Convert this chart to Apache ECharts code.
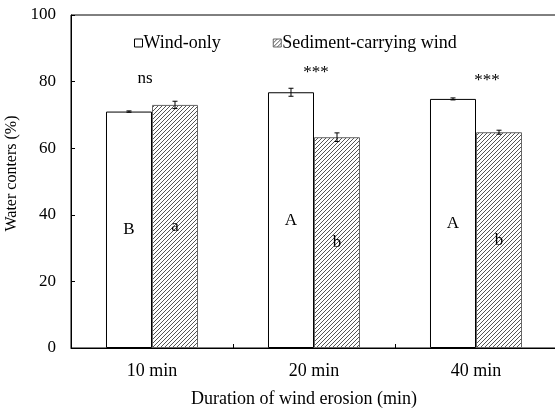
<!DOCTYPE html>
<html><head><meta charset="utf-8">
<script src="https://cdn.jsdelivr.net/npm/echarts@6/dist/echarts.min.js"></script>
<style>html,body{margin:0;padding:0;background:#fff}#c{width:555px;height:408px}</style>
</head><body><div id="c"></div>
<script>
// ---- data ----
const categories = ['10 min', '20 min', '40 min'];
const windOnly = [71.0, 76.8, 74.8];
const windOnlyErr = [0.2, 1.2, 0.3];
const sediment = [73.0, 63.3, 64.8];
const sedimentErr = [1.1, 1.3, 0.6];
const windLetters = ['B', 'A', 'A'];
const sedimentLetters = ['a', 'b', 'b'];
const sigLabels = ['ns', '***', '***'];
const sigY = [80.8, 82.7, 80.3];
const seriesNames = ['Wind-only', 'Sediment-carrying wind'];

// ---- styling ----
const FONT = 'Liberation Serif, Times New Roman, serif';
const BAR_FRAC = 0.284;
const sigOffsetPx = [-7, 2, 11];

function hatch() {
  const s = 4;
  const cv = document.createElement('canvas');
  cv.width = s; cv.height = s;
  const g = cv.getContext('2d');
  g.fillStyle = '#fff'; g.fillRect(0, 0, s, s);
  g.strokeStyle = '#555'; g.lineWidth = 1;
  g.beginPath();
  g.moveTo(0, s); g.lineTo(s, 0);
  g.moveTo(-1, 1); g.lineTo(1, -1);
  g.moveTo(s - 1, s + 1); g.lineTo(s + 1, s - 1);
  g.stroke();
  return { image: cv, repeat: 'repeat' };
}

const chart = echarts.init(document.getElementById('c'), null, { renderer: 'canvas' });

function errSeries(vals, errs, side) {
  return {
    type: 'custom', silent: true, z: 5,
    data: vals.map((v, i) => [i, v, errs[i]]),
    renderItem: function (params, api) {
      const i = api.value(0), v = api.value(1), e = api.value(2);
      const catW = api.size([1, 0])[0];
      const dx = side * catW * BAR_FRAC / 2;
      const top = api.coord([i, v + e]);
      const bot = api.coord([i, v - e]);
      const x = top[0] + dx;
      const cap = 2.5;
      return {
        type: 'group',
        children: [
          { type: 'line', shape: { x1: x, y1: top[1], x2: x, y2: bot[1] }, style: { stroke: '#000', lineWidth: 1 } },
          { type: 'line', shape: { x1: x - cap, y1: top[1], x2: x + cap, y2: top[1] }, style: { stroke: '#000', lineWidth: 1 } },
          { type: 'line', shape: { x1: x - cap, y1: bot[1], x2: x + cap, y2: bot[1] }, style: { stroke: '#000', lineWidth: 1 } }
        ]
      };
    }
  };
}

const option = {
  animation: false,
  backgroundColor: '#fff',
  grid: { left: 71, top: 15, width: 486, height: 333, show: true, borderColor: '#000', borderWidth: 1, backgroundColor: 'transparent', containLabel: false, outerBoundsMode: 'none' },
  legend: {
    data: seriesNames,
    left: 129, top: 29,
    itemWidth: 8, itemHeight: 8, itemGap: 52,
    icon: 'rect',
    itemStyle: { borderWidth: 1 },
    textStyle: { fontFamily: FONT, fontSize: 18, color: '#000', padding: [0, 0, 0, -4] }
  },
  xAxis: {
    type: 'category', data: categories,
    axisLine: { show: true, lineStyle: { color: '#000', width: 1 } },
    axisTick: { show: true, inside: true, length: 4, alignWithLabel: false, lineStyle: { color: '#000' } },
    axisLabel: { fontFamily: FONT, fontSize: 18, color: '#000', margin: 14, interval: 0 },
    name: 'Duration of wind erosion (min)', nameLocation: 'middle', nameGap: 42,
    nameTextStyle: { fontFamily: FONT, fontSize: 18, color: '#000', padding: [0, 20, 0, 0] }
  },
  yAxis: {
    type: 'value', min: 0, max: 100, interval: 20,
    axisLine: { show: true, lineStyle: { color: '#000', width: 1 } },
    axisTick: { show: true, inside: true, length: 4, lineStyle: { color: '#000' } },
    splitLine: { show: false },
    axisLabel: { fontFamily: FONT, fontSize: 17, color: '#000', margin: 15 },
    name: 'Water conters (%)', nameLocation: 'middle', nameGap: 42, nameRotate: 90,
    nameTextStyle: { fontFamily: FONT, fontSize: 16, color: '#000', padding: [0, 0, 0, 16] }
  },
  series: [
    {
      name: seriesNames[0], type: 'bar', data: windOnly,
      barWidth: (BAR_FRAC * 100) + '%', barGap: '0%',
      itemStyle: { color: '#fff', borderColor: '#000', borderWidth: 1 },
      label: { show: true, position: 'inside', formatter: p => windLetters[p.dataIndex], fontFamily: FONT, fontSize: 17, color: '#000' }
    },
    {
      name: seriesNames[1], type: 'bar', data: sediment,
      barWidth: (BAR_FRAC * 100) + '%', barGap: '0%',
      itemStyle: { color: hatch(), borderColor: '#666', borderWidth: 1 },
      label: { show: true, position: 'inside', formatter: p => sedimentLetters[p.dataIndex], fontFamily: FONT, fontSize: 17, color: '#000', backgroundColor: 'transparent' }
    },
    errSeries(windOnly, windOnlyErr, -1),
    errSeries(sediment, sedimentErr, 1),
    {
      type: 'custom', silent: true, z: 6,
      data: sigY.map((y, i) => [i, y]),
      renderItem: function (params, api) {
        const i = api.value(0);
        const p = api.coord([i, api.value(1)]);
        return {
          type: 'text', x: p[0] + sigOffsetPx[i], y: p[1],
          style: { text: sigLabels[i], fontFamily: FONT, fontSize: 17, fill: '#000', align: 'center', verticalAlign: 'middle' }
        };
      }
    }
  ]
};
chart.setOption(option);
</script>
</body></html>
